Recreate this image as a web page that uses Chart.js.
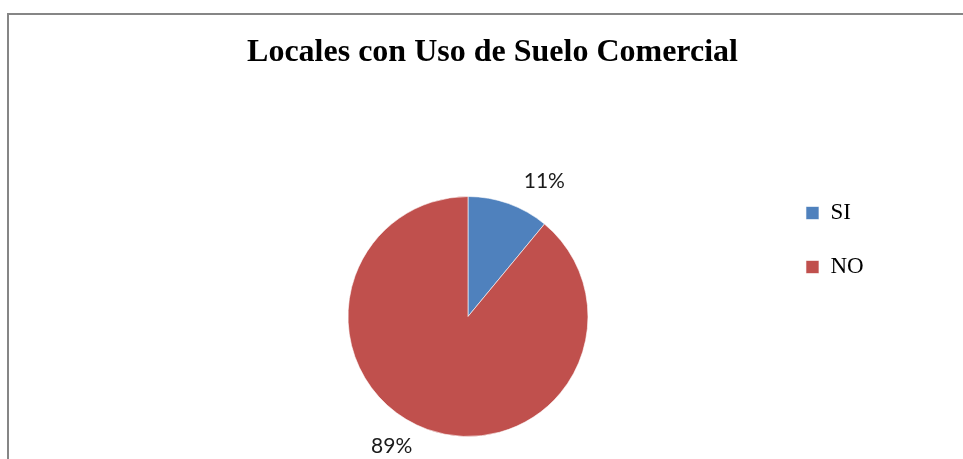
<!DOCTYPE html>
<html>
<head>
<meta charset="utf-8">
<script src="https://cdn.jsdelivr.net/npm/chart.js@4"></script>
<style>
  html, body { margin: 0; padding: 0; background: #fff; overflow: hidden; }
  #frame {
    position: absolute; left: 7px; top: 13px; width: 1000px; height: 1000px;
    border-left: 2px solid #868686; border-top: 2px solid #868686;
  }
  #pieChart { position: absolute; left: 0; top: 0; }
</style>
</head>
<body>
<div id="frame"></div>
<canvas id="pieChart" width="963" height="459"></canvas>
<script>
const chartTitle = "Locales con Uso de Suelo Comercial";
const categories = ["SI", "NO"];
const percentages = [11, 89];
const sliceColors = ["#4F81BD", "#C0504D"];

// percent labels just outside each slice
const outsideLabels = {
  id: "outsideLabels",
  afterDatasetsDraw(chart) {
    const ctx = chart.ctx;
    const meta = chart.getDatasetMeta(0);
    ctx.save();
    ctx.font = "21px Lato";
    ctx.fillStyle = "#1a1a1a";
    ctx.textBaseline = "middle";
    meta.data.forEach((arc, i) => {
      const p = arc.getProps(["x", "y", "startAngle", "endAngle", "outerRadius"], true);
      const mid = (p.startAngle + p.endAngle) / 2;
      const r = p.outerRadius + 21;
      const cos = Math.cos(mid);
      let tx = p.x + cos * r;
      const ty = p.y + Math.sin(mid) * r - 3;
      if (cos >= 0) { ctx.textAlign = "left"; tx += 8; }
      else { ctx.textAlign = "right"; tx -= 8; }
      ctx.fillText(percentages[i] + "%", tx, ty);
    });
    ctx.restore();
  }
};

const ctx = document.getElementById("pieChart").getContext("2d");
new Chart(ctx, {
  type: "pie",
  data: {
    labels: categories,
    datasets: [{
      data: percentages,
      backgroundColor: sliceColors,
      borderColor: "rgba(255, 255, 255, 0.6)",
      borderWidth: 1
    }]
  },
  options: {
    responsive: false,
    animation: false,
    layout: {
      padding: { top: 43, bottom: 22, left: 111.3, right: 89.3 }
    },
    plugins: {
      title: {
        display: true,
        text: chartTitle,
        color: "#000000",
        font: { family: "Liberation Serif", size: 32, weight: "bold", lineHeight: 0.6 },
        padding: { top: 0, bottom: 133.8 }
      },
      // empty left box, keeps the pie left of the title centre like the original
      subtitle: {
        display: true,
        position: "left",
        text: "",
        font: { size: 10, lineHeight: 1 },
        padding: { top: 0, bottom: 39.7 }
      },
      legend: {
        position: "right",
        labels: {
          boxWidth: 13,
          boxHeight: 13,
          padding: 31,
          color: "#000000",
          font: { family: "Liberation Serif", size: 23 }
        }
      },
      tooltip: { enabled: false }
    }
  },
  plugins: [outsideLabels]
});
</script>
</body>
</html>
